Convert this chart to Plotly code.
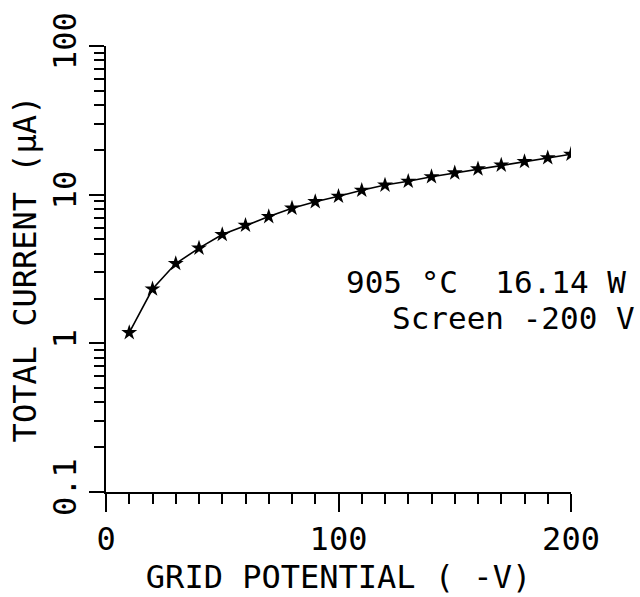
import plotly.graph_objects as go

grid_potential = [10, 20, 30, 40, 50, 60, 70, 80, 90, 100,
                  110, 120, 130, 140, 150, 160, 170, 180, 190, 200]
total_current = [1.18, 2.32, 3.44, 4.37, 5.39, 6.22, 7.12, 8.11, 8.97, 9.75,
                 10.7, 11.6, 12.3, 13.2, 14.0, 14.9, 15.8, 16.7, 17.7, 18.7]

x_tickvals = [0, 100, 200]
x_ticktext = ["0", "100", "200"]
y_tickvals = [0.1, 1, 10, 100]
y_ticktext = ["0.1", "1", "10", "100"]
y_minor = [m * d for d in (0.1, 1, 10) for m in range(2, 10)]

FONT = "DejaVu Sans Mono"
fs = 32
fs_note = 31

fig = go.Figure()
fig.add_trace(go.Scatter(
    x=grid_potential, y=total_current, mode="lines+markers",
    line=dict(color="black", width=1.6),
    marker=dict(symbol="star", size=12, color="black"),
    showlegend=False,
))

fig.update_layout(
    width=640, height=597,
    margin=dict(l=106, r=69, t=38, b=96),
    paper_bgcolor="white", plot_bgcolor="white",
    font=dict(family=FONT, size=fs, color="black"),
)

fig.update_xaxes(
    range=[0, 200], showgrid=False, zeroline=False,
    showline=True, linecolor="black", linewidth=2,
    tickmode="array", tickvals=x_tickvals, ticktext=x_ticktext,
    ticks="outside", ticklen=18, tickwidth=2, tickcolor="black",
    minor=dict(ticks="outside", ticklen=10, tickwidth=2, tickcolor="black", dtick=10, showgrid=False),
    tickfont=dict(family=FONT, size=fs),
    title=dict(text="GRID POTENTIAL ( -V)", font=dict(family=FONT, size=fs), standoff=4),
)
fig.update_yaxes(
    type="log", range=[-1, 2], showgrid=False, zeroline=False,
    showline=True, linecolor="black", linewidth=2,
    tickmode="array", tickvals=y_tickvals, ticktext=y_ticktext,
    ticks="outside", ticklen=15, tickwidth=2, tickcolor="black",
    minor=dict(ticks="outside", ticklen=10, tickwidth=2, tickcolor="black", tickvals=y_minor, showgrid=False),
    tickangle=-90,
    tickfont=dict(family=FONT, size=fs),
    title=dict(text="TOTAL CURRENT (μA)", font=dict(family=FONT, size=fs), standoff=0),
)

fig.add_annotation(xref="paper", yref="paper", x=1.1226, y=0.4708,
                   xanchor="right", yanchor="middle", showarrow=False,
                   text="905 °C  16.14 W", font=dict(family=FONT, size=fs_note))
fig.add_annotation(xref="paper", yref="paper", x=1.142, y=0.391,
                   xanchor="right", yanchor="middle", showarrow=False,
                   text="Screen -200 V", font=dict(family=FONT, size=fs_note))

fig.write_html("out.html")
